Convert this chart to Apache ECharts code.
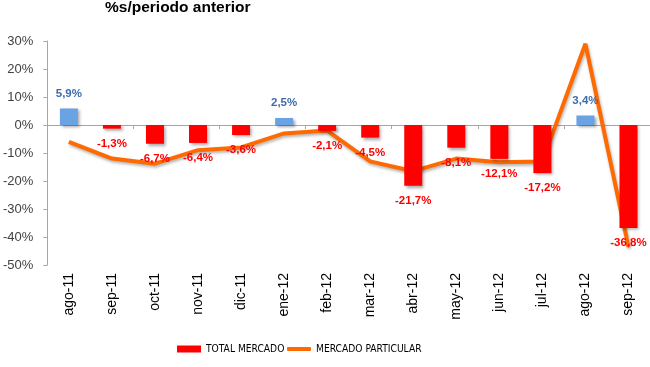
<!DOCTYPE html>
<html><head><meta charset="utf-8">
<script src="https://cdn.jsdelivr.net/npm/echarts@6/dist/echarts.min.js"></script>
<style>html,body{margin:0;padding:0;background:#fff}#c{width:650px;height:367px}</style>
</head><body><div id="c"></div>
<script>
var categories = ['ago-11','sep-11','oct-11','nov-11','dic-11','ene-12','feb-12','mar-12','abr-12','may-12','jun-12','jul-12','ago-12','sep-12'];
var totalMercado = [5.9,-1.3,-6.7,-6.4,-3.6,2.5,-2.1,-4.5,-21.7,-8.1,-12.1,-17.2,3.4,-36.8];
var mercadoParticular = [-6,-12,-13.8,-9,-8,-3,-2,-13,-16.5,-12,-13.3,-13,29,-43.5];
var yTicks = [-50,-40,-30,-20,-10,0,10,20,30];

var barData = totalMercado.map(function(v){
  var pos = v >= 0;
  return {
    value: v,
    itemStyle: {color: pos ? '#6aa3e4' : '#ff0000'},
    label: {position: pos ? 'top' : 'bottom', color: pos ? '#3d6cab' : '#ff0000'}
  };
});
var fmt = function(p){ return String(p.value.toFixed(1)).replace('.', ',') + '%'; };
var legendFont = {fontSize: 10.2, color: '#000', fontFamily: '"DejaVu Sans Condensed", "Liberation Sans", Arial, sans-serif'};

var chart = echarts.init(document.getElementById('c'));
chart.setOption({
  animation: false,
  textStyle: {fontFamily: 'Liberation Sans, Arial, sans-serif'},
  graphic: [{type:'text', left: 105, top: 0, style:{text:'%s/periodo anterior', font:'bold 15.5px "Liberation Sans", Arial, sans-serif', fill:'#000'}}],
  grid: {left: 44, top: 41, width: 609, height: 224},
  legend: [{
    left: 172, top: 339, itemWidth: 24, itemHeight: 7, itemGap: 3,
    textStyle: legendFont,
    data: [{name:'TOTAL MERCADO', icon:'rect'}]
  }, {
    left: 282, top: 339, itemWidth: 24, itemHeight: 4, itemGap: 3,
    textStyle: legendFont,
    data: [{name:'MERCADO PARTICULAR', icon:'roundRect'}]
  }],
  xAxis: [{
    type: 'category', data: categories, position: 'bottom',
    axisLine: {show: false, onZero: false}, axisTick: {show: false},
    axisLabel: {rotate: 90, fontSize: 14, color: '#000', margin: 8, interval: 0}
  }, {
    type: 'category', data: categories, position: 'bottom',
    axisLine: {show: true, onZero: true, lineStyle: {color: '#a6a6a6', width: 1}},
    axisTick: {show: true, length: 4, lineStyle: {color: '#a6a6a6'}},
    axisLabel: {show: false}
  }],
  yAxis: {
    type: 'value', min: -50, max: 30, interval: 10,
    axisLine: {show: true, lineStyle: {color: '#a6a6a6'}},
    axisTick: {show: true, length: 4, lineStyle: {color: '#a6a6a6'}},
    splitLine: {show: false},
    axisLabel: {fontSize: 13, color: '#404040', margin: 14, formatter: function(v){ return yTicks.indexOf(v) >= 0 ? v + '%' : ''; }}
  },
  series: [{
    name: 'TOTAL MERCADO', type: 'bar', data: barData, barWidth: 18, xAxisIndex: 0,
    itemStyle: {color: '#ff0000', shadowColor: 'rgba(0,0,0,0.35)', shadowBlur: 3, shadowOffsetX: 2, shadowOffsetY: 2},
    label: {show: true, fontSize: 11.5, fontWeight: 'bold', distance: 9, formatter: fmt}
  }, {
    name: 'MERCADO PARTICULAR', type: 'line', data: mercadoParticular, xAxisIndex: 0,
    symbol: 'none', z: 1,
    lineStyle: {color: '#ff6a00', width: 4, shadowColor: 'rgba(0,0,0,0.3)', shadowBlur: 3, shadowOffsetX: 1, shadowOffsetY: 2},
    itemStyle: {color: '#ff6a00'}
  }]
});
</script></body></html>
